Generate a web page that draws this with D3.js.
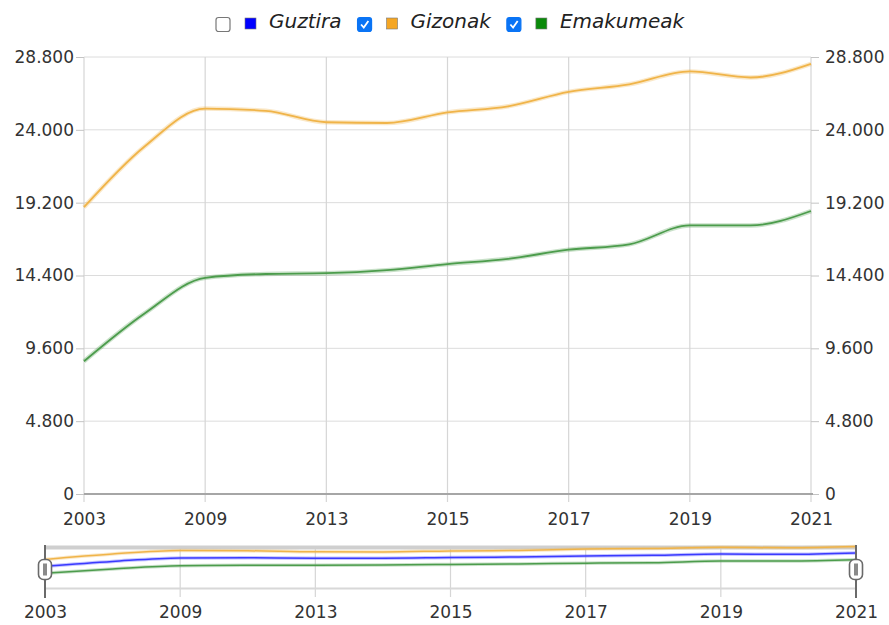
<!DOCTYPE html>
<html>
<head>
<meta charset="utf-8">
<script src="https://cdn.jsdelivr.net/npm/d3@7"></script>
<style>
  html, body { margin: 0; padding: 0; background: #fff; }
  svg { display: block; font-family: "DejaVu Sans", Verdana, sans-serif; }
  .tick text { fill: #333; font-size: 17px; font-family: "DejaVu Sans", Verdana, sans-serif; }
  .legend text { font-style: italic; font-size: 20px; fill: #222; }
</style>
</head>
<body>
<div id="chart"></div>
<script>

// Categories (only every other one is labelled on the axis)
var years = ["2003", "2006", "2009", "2011", "2013", "2014", "2015", "2016", "2017", "2018", "2019", "2020", "2021"]

// Series values
var guztira    = [13800, 17400, 20000, 20100, 19800, 19800, 20300, 20700, 21500, 21900, 22900, 22700, 23700]
var gizonak    = [18900, 22900, 25400, 25250, 24500, 24450, 25150, 25550, 26500, 27000, 27850, 27450, 28350]
var emakumeak  = [8750, 11900, 14250, 14500, 14550, 14750, 15150, 15500, 16100, 16450, 17700, 17700, 18650]

var yTicks = [0, 4800, 9600, 14400, 19200, 24000, 28800]

var seriesNames  = ["Guztira", "Gizonak", "Emakumeak"]
var seriesColors = ["#0000ff", "#f5a623", "#0a8a0a"]
var lineColors   = ["#3a3aff", "#f0b449", "#4c9c4c"]
var seriesShown  = [false, true, true]

var width = 889, height = 625

var svg = d3.select("#chart").append("svg")
	.attr("width", width)
	.attr("height", height)

var locale = d3.formatLocale({ decimal: ",", thousands: ".", grouping: [3], currency: ["", "€"] })
var fmt = locale.format(",d")

var allSeries = [guztira, gizonak, emakumeak]

// Main chart

var x = d3.scalePoint().domain(years).range([84, 811])
var y = d3.scaleLinear().domain([0, 28800]).range([494, 57])

var labelled = years.filter(function(d, i) { return i % 2 === 0 })

var main = svg.append("g")

// horizontal grid
main.selectAll(".hgrid")
	.data(yTicks)
	.enter()
	.append("line")
	.attr("x1", x.range()[0])
	.attr("x2", x.range()[1])
	.attr("y1", function(d) { return y(d) })
	.attr("y2", function(d) { return y(d) })
	.attr("stroke", "#dcdcdc")
	.attr("stroke-width", 1)

// vertical grid
main.selectAll(".vgrid")
	.data(labelled)
	.enter()
	.append("line")
	.attr("x1", function(d) { return x(d) })
	.attr("x2", function(d) { return x(d) })
	.attr("y1", y(28800))
	.attr("y2", y(0) + 8)
	.attr("stroke", "#d6d6d6")
	.attr("stroke-width", 1.2)

// axes
var yAxisLeft = d3.axisLeft(y).tickValues(yTicks).tickFormat(fmt).tickSize(8).tickPadding(2)
var yAxisRight = d3.axisRight(y).tickValues(yTicks).tickFormat(fmt).tickSize(8).tickPadding(6)
var xAxis = d3.axisBottom(x).tickValues(labelled).tickSize(0).tickPadding(19)

main.append("g")
	.attr("transform", "translate(" + x.range()[0] + ",0)")
	.call(yAxisLeft)
	.call(function(g) { g.select(".domain").remove() })
	.call(function(g) { g.selectAll(".tick line").attr("stroke", "#c4c4c4") })

main.append("g")
	.attr("transform", "translate(" + x.range()[1] + ",0)")
	.call(yAxisRight)
	.call(function(g) { g.select(".domain").remove() })
	.call(function(g) { g.selectAll(".tick line").attr("stroke", "#c4c4c4") })

main.append("g")
	.attr("transform", "translate(0," + y(0) + ")")
	.call(xAxis)
	.call(function(g) { g.select(".domain").remove() })

main.append("line")
	.attr("x1", x.range()[0])
	.attr("x2", x.range()[1] + 2)
	.attr("y1", y(0))
	.attr("y2", y(0))
	.attr("stroke", "#a6a6a6")
	.attr("stroke-width", 2)

var line = d3.line()
	.x(function(d, i) { return x(years[i]) })
	.y(function(d) { return y(d) })
	.curve(d3.curveMonotoneX)

allSeries.forEach(function(s, k) {
	if (!seriesShown[k]) return
	main.append("path")
		.datum(s)
		.attr("d", line)
		.attr("fill", "none")
		.attr("stroke", lineColors[k])
		.attr("stroke-opacity", 0.3)
		.attr("stroke-width", 4.5)
	main.append("path")
		.datum(s)
		.attr("d", line)
		.attr("fill", "none")
		.attr("stroke", lineColors[k])
		.attr("stroke-width", 1.8)
})

// Navigator

var xn = d3.scalePoint().domain(years).range([45, 856])
var yn = d3.scaleLinear().domain([0, 28800]).range([585, 546])

var nav = svg.append("g")

nav.selectAll(".nvgrid")
	.data(labelled)
	.enter()
	.append("line")
	.attr("x1", function(d) { return xn(d) })
	.attr("x2", function(d) { return xn(d) })
	.attr("y1", 546)
	.attr("y2", 597)
	.attr("stroke", "#d6d6d6")
	.attr("stroke-width", 1.2)

nav.append("line")
	.attr("x1", xn.range()[0]).attr("x2", xn.range()[1])
	.attr("y1", 547.5).attr("y2", 547.5)
	.attr("stroke", "#cfcfcf").attr("stroke-width", 4)

nav.append("line")
	.attr("x1", xn.range()[0]).attr("x2", xn.range()[1])
	.attr("y1", 588.5).attr("y2", 588.5)
	.attr("stroke", "#d8d8d8").attr("stroke-width", 2)

var navLine = d3.line()
	.x(function(d, i) { return xn(years[i]) })
	.y(function(d) { return yn(d) })
	.curve(d3.curveMonotoneX)

allSeries.forEach(function(s, k) {
	nav.append("path")
		.datum(s)
		.attr("d", navLine)
		.attr("fill", "none")
		.attr("stroke", lineColors[k])
		.attr("stroke-opacity", 0.3)
		.attr("stroke-width", 3.5)
	nav.append("path")
		.datum(s)
		.attr("d", navLine)
		.attr("fill", "none")
		.attr("stroke", lineColors[k])
		.attr("stroke-width", 1.5)
})

nav.append("g")
	.attr("transform", "translate(0,597)")
	.call(d3.axisBottom(xn).tickValues(labelled).tickSize(0).tickPadding(9))
	.call(function(g) { g.select(".domain").remove() })

// range handles
xn.range().forEach(function(hx) {
	nav.append("line")
		.attr("x1", hx).attr("x2", hx)
		.attr("y1", 545).attr("y2", 598)
		.attr("stroke", "#6a6a6a").attr("stroke-width", 2)
	nav.append("rect")
		.attr("x", hx - 6.5).attr("y", 559.5)
		.attr("width", 13).attr("height", 20)
		.attr("rx", 5)
		.attr("fill", "#fff")
		.attr("stroke", "#6a6a6a").attr("stroke-width", 1.6)
	nav.append("rect")
		.attr("x", hx - 2).attr("y", 563.5)
		.attr("width", 4).attr("height", 12)
		.attr("fill", "#8a8a8a")
})

// Legend

var legend = svg.append("g").attr("class", "legend")

var items = legend.selectAll(".item")
	.data(seriesNames)
	.enter()
	.append("g")
	.attr("class", "item")

items.append("rect")
	.attr("class", "cb")
	.attr("x", 0).attr("y", 17.5)
	.attr("width", 14).attr("height", 14)
	.attr("rx", 2.5)
	.attr("fill", function(d, i) { return seriesShown[i] ? "#0a74f5" : "#fff" })
	.attr("stroke", function(d, i) { return seriesShown[i] ? "#0a74f5" : "#777" })
	.attr("stroke-width", 1.2)

items.filter(function(d, i) { return seriesShown[i] })
	.append("path")
	.attr("d", "M3.5,24.5 L6.2,27.5 L10.8,21")
	.attr("fill", "none")
	.attr("stroke", "#fff")
	.attr("stroke-width", 1.8)

items.append("rect")
	.attr("x", 29).attr("y", 18)
	.attr("width", 11).attr("height", 11)
	.attr("fill", function(d, i) { return seriesColors[i] })
	.attr("stroke", "#777")
	.attr("stroke-width", 0.6)

items.append("text")
	.attr("x", 53).attr("y", 28)
	.text(function(d) { return d })

var cursor = 0
items.each(function() {
	var w = d3.select(this).select("text").node().getComputedTextLength()
	d3.select(this).attr("transform", "translate(" + cursor + ",0)")
	cursor += 53 + w + 16
})
cursor -= 16
legend.attr("transform", "translate(" + Math.round(450 - cursor / 2) + ",0)")

</script>
</body>
</html>
